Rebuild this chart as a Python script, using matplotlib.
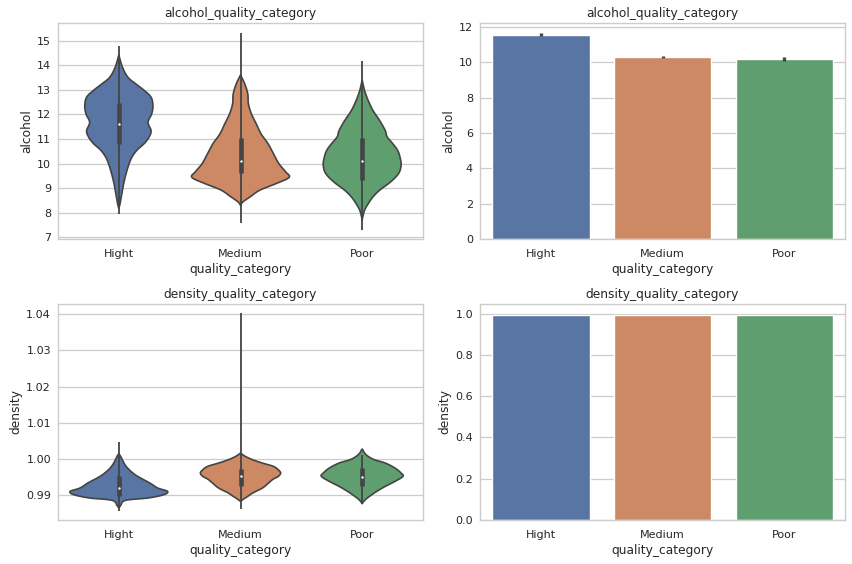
import numpy as np
import matplotlib
matplotlib.use("Agg")
import matplotlib.pyplot as plt
import seaborn as sns

categories = ["Hight", "Medium", "Poor"]
colors = ["#5875a4", "#cc8963", "#5f9e6e"]

# ---- alcohol violin profiles (value, half-width in category units) ----
alc_hight_y = [8.17, 8.37, 8.78, 9.19, 9.6, 10.0, 10.28, 10.55, 10.82, 11.09, 11.34, 11.68, 12.02, 12.36, 12.7, 12.97, 13.24, 13.51, 13.92, 14.42]
alc_hight_w = [0.0, 0.01, 0.025, 0.04, 0.06, 0.085, 0.11, 0.15, 0.21, 0.25, 0.265, 0.24, 0.27, 0.28, 0.265, 0.21, 0.14, 0.075, 0.03, 0.0]
alc_medium_y = [8.3, 8.44, 8.65, 8.92, 9.19, 9.44, 9.67, 10.0, 10.41, 10.82, 11.2, 11.61, 12.02, 12.43, 12.83, 13.24, 13.6]
alc_medium_w = [0.0, 0.02, 0.08, 0.16, 0.295, 0.4, 0.37, 0.315, 0.27, 0.225, 0.17, 0.13, 0.09, 0.065, 0.06, 0.035, 0.0]
alc_poor_y = [7.69, 7.83, 8.1, 8.37, 8.65, 8.92, 9.26, 9.6, 9.94, 10.28, 10.55, 10.82, 11.09, 11.34, 11.74, 12.15, 12.56, 12.97, 13.4]
alc_poor_w = [0.0, 0.005, 0.02, 0.05, 0.09, 0.145, 0.235, 0.3, 0.32, 0.31, 0.29, 0.25, 0.205, 0.19, 0.145, 0.09, 0.05, 0.02, 0.0]
alc_q1 = [10.78, 9.6, 9.34]
alc_med = [11.59, 10.09, 10.09]
alc_q3 = [12.47, 11.06, 11.06]
alc_wlo = [7.93, 7.57, 7.3]
alc_whi = [14.78, 15.33, 14.18]

# ---- density violin profiles ----
den_hight_y = [0.9865, 0.9872, 0.98862, 0.98927, 0.99018, 0.9911, 0.99202, 0.9934, 0.99523, 0.99661, 0.99799, 0.99937, 1.00074, 1.0015]
den_hight_w = [0.0, 0.015, 0.055, 0.24, 0.37, 0.40, 0.32, 0.255, 0.155, 0.1, 0.06, 0.035, 0.015, 0.0]
den_medium_y = [0.98835, 0.9891, 0.98972, 0.99064, 0.99202, 0.9934, 0.9945, 0.99523, 0.99615, 0.99707, 0.998, 0.99891, 0.99983, 1.00074, 1.00166]
den_medium_w = [0.0, 0.03, 0.06, 0.1, 0.18, 0.23, 0.27, 0.31, 0.33, 0.31, 0.27, 0.18, 0.1, 0.04, 0.0]
den_poor_y = [0.9877, 0.9886, 0.98972, 0.9911, 0.99248, 0.99386, 0.99523, 0.99615, 0.99753, 0.99891, 0.99983, 1.00074, 1.00166, 1.00258, 1.00276]
den_poor_w = [0.0, 0.02, 0.06, 0.12, 0.19, 0.27, 0.335, 0.32, 0.27, 0.19, 0.1, 0.05, 0.02, 0.005, 0.0]
den_q1 = [0.98972, 0.99248, 0.99248]
den_med = [0.99202, 0.99542, 0.99505]
den_q3 = [0.99523, 0.99725, 0.99753]
den_wlo = [0.98578, 0.98623, 0.9877]
den_whi = [1.0046, 1.0403, 1.00112]

# ---- bar means and CIs ----
alc_mean = [11.57, 10.30, 10.19]
alc_ci_lo = [11.49, 10.26, 10.08]
alc_ci_hi = [11.64, 10.34, 10.31]
den_mean = [0.9918, 0.9953, 0.9951]

sns.set_theme(style="whitegrid")
plt.rcParams['font.family'] = ['DejaVu Sans']

W, H = 852, 564
fig = plt.figure(figsize=(W / 100, H / 100), dpi=100)

def px_axes(l, t, r, b):
    return fig.add_axes([l / W, (H - b) / H, (r - l) / W, (b - t) / H])

ax_tl = px_axes(58, 23, 423, 239)
ax_tr = px_axes(480, 23, 845, 239)
ax_bl = px_axes(58, 304, 423, 520)
ax_br = px_axes(480, 304, 845, 520)

tick_fs = 8.0
lab_fs = 8.8
edge = "#444444"

def style(ax, title, ylabel):
    ax.set_title(title, fontsize=lab_fs, color=".15", pad=4)
    ax.set_xlabel("quality_category", fontsize=lab_fs, color=".15", labelpad=3)
    ax.set_ylabel(ylabel, fontsize=lab_fs, color=".15", labelpad=3)
    ax.tick_params(axis="y", labelsize=tick_fs, colors=".15", length=0, pad=5)
    ax.tick_params(axis="x", labelsize=tick_fs, colors=".15", length=0, pad=7)
    ax.xaxis.grid(False)
    ax.yaxis.grid(True, color=".8", linewidth=0.9)
    for s in ax.spines.values():
        s.set_color(".8")
        s.set_linewidth(1.0)
    ax.set_axisbelow(True)
    ax.set_xticks(range(len(categories)))
    ax.set_xticklabels(categories)
    ax.set_xlim(-0.5, 2.5)

def smooth_curve(ys, ws, n=12):
    """Catmull-Rom curve through the read profile points (drawing only)."""
    ys = np.asarray(ys, float)
    ws = np.asarray(ws, float)
    P = np.column_stack([ys, ws])
    P = np.vstack([P[0], P, P[-1]])
    out = []
    for k in range(1, len(P) - 2):
        p0, p1, p2, p3 = P[k - 1], P[k], P[k + 1], P[k + 2]
        t = np.linspace(0, 1, n, endpoint=False)[:, None]
        c = 0.5 * ((2 * p1) + (-p0 + p2) * t + (2 * p0 - 5 * p1 + 4 * p2 - p3) * t ** 2
                   + (-p0 + 3 * p1 - 3 * p2 + p3) * t ** 3)
        out.append(c)
    out.append(P[-2][None, :])
    C = np.vstack(out)
    C[:, 1] = np.clip(C[:, 1], 0, None)
    return C[:, 0], C[:, 1]

def violins(ax, profiles, q1, med, q3, wlo, whi):
    for i, (ys, ws) in enumerate(profiles):
        sy, sw = smooth_curve(ys, ws)
        xs = np.concatenate([i - sw, (i + sw)[::-1]])
        yy = np.concatenate([sy, sy[::-1]])
        ax.fill(xs, yy, facecolor=colors[i], edgecolor=edge, linewidth=1.2, zorder=2, joinstyle="round")
        ax.plot([i, i], [wlo[i], whi[i]], color=edge, linewidth=1.3, zorder=4, solid_capstyle="butt")
        ax.plot([i, i], [q1[i], q3[i]], color=edge, linewidth=3.3, zorder=5, solid_capstyle="butt")
        ax.scatter([i], [med[i]], s=3, color="white", zorder=6, linewidths=0)

# top-left
violins(ax_tl, [(alc_hight_y, alc_hight_w), (alc_medium_y, alc_medium_w), (alc_poor_y, alc_poor_w)],
        alc_q1, alc_med, alc_q3, alc_wlo, alc_whi)
style(ax_tl, "alcohol_quality_category", "alcohol")
ax_tl.set_ylim(6.93, 15.72)
ax_tl.set_yticks(range(7, 16))

# bottom-left
violins(ax_bl, [(den_hight_y, den_hight_w), (den_medium_y, den_medium_w), (den_poor_y, den_poor_w)],
        den_q1, den_med, den_q3, den_wlo, den_whi)
style(ax_bl, "density_quality_category", "density")
ax_bl.set_ylim(0.9832, 1.0428)
ax_bl.set_yticks([0.99, 1.00, 1.01, 1.02, 1.03, 1.04])
ax_bl.set_yticklabels(["0.99", "1.00", "1.01", "1.02", "1.03", "1.04"])

# top-right bars
x = np.arange(len(categories))
ax_tr.bar(x, alc_mean, width=0.8, color=colors, zorder=2)
ax_tr.vlines(x, alc_ci_lo, alc_ci_hi, color=edge, linewidth=2.4, zorder=3)
style(ax_tr, "alcohol_quality_category", "alcohol")
ax_tr.set_ylim(0, 12.23)
ax_tr.set_yticks([0, 2, 4, 6, 8, 10, 12])

# bottom-right bars
ax_br.bar(x, den_mean, width=0.8, color=colors, zorder=2)
style(ax_br, "density_quality_category", "density")
ax_br.set_ylim(0, 1.047)
ax_br.set_yticks([0.0, 0.2, 0.4, 0.6, 0.8, 1.0])
ax_br.set_yticklabels(["0.0", "0.2", "0.4", "0.6", "0.8", "1.0"])

fig.savefig("out.png", dpi=100)
